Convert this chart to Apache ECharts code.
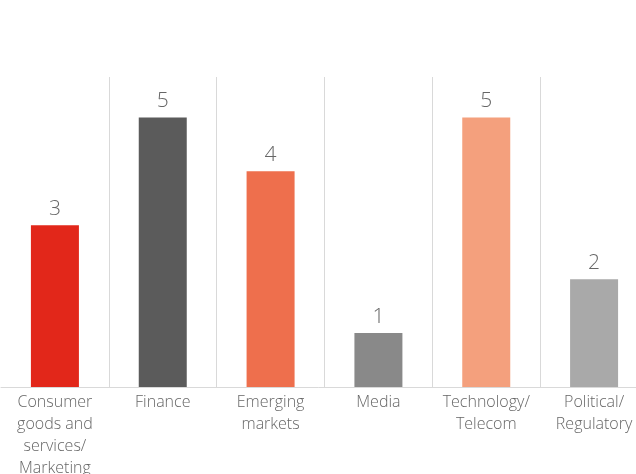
<!DOCTYPE html>
<html><head><meta charset="utf-8">
<script src="https://cdn.jsdelivr.net/npm/echarts@6/dist/echarts.min.js"></script>
<style>html,body{margin:0;padding:0;background:#fff}#c{width:636px;height:474px}</style>
</head><body><div id="c"></div>
<script>
var categories = ["Consumer\ngoods and\nservices/\nMarketing", "Finance", "Emerging\nmarkets", "Media", "Technology/\nTelecom", "Political/\nRegulatory"];
var values = [3, 5, 4, 1, 5, 2];
var colors = ["#E2271A", "#5B5B5B", "#EE6F4D", "#898989", "#F4A07D", "#A9A9A9"];

var chart = echarts.init(document.getElementById('c'), null, {renderer: 'canvas'});
chart.setOption({
  animation: false,
  grid: {left: 1, right: -12, top: 77, bottom: 87, containLabel: false, outerBoundsMode: 'none'},
  xAxis: {
    type: 'category',
    data: categories,
    axisLine: {show: true, lineStyle: {color: '#D9D9D9', width: 1}},
    axisTick: {show: false},
    splitLine: {show: true, interval: function (i) { return i > 0; }, lineStyle: {color: '#D9D9D9', width: 1}},
    axisLabel: {color: '#666666', fontFamily: 'Open Sans', fontWeight: 300, fontSize: 16, lineHeight: 22, margin: 4, interval: 0}
  },
  yAxis: {
    type: 'value', min: 0, max: 5.75,
    show: false, splitLine: {show: false}
  },
  series: [{
    type: 'bar',
    barWidth: 48,
    data: values.map(function (v, i) { return {value: v, itemStyle: {color: colors[i]}}; }),
    label: {show: true, position: 'top', distance: 6, color: '#666666', fontFamily: 'Open Sans', fontWeight: 300, fontSize: 21}
  }]
});
</script></body></html>
